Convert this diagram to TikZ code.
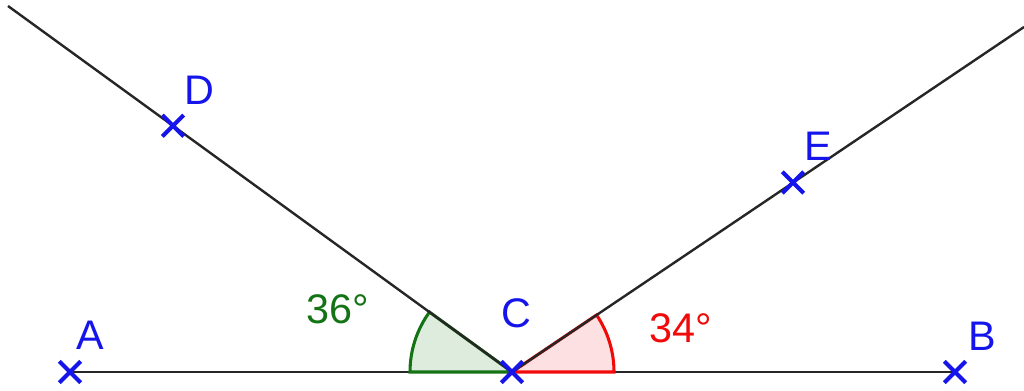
\documentclass[tikz,border=0pt]{standalone}
\usepackage{fontspec}
\setmainfont{Liberation Sans}
\usetikzlibrary{shapes.misc}
\definecolor{gblue}{RGB}{20,20,235}
\definecolor{ggreen}{RGB}{20,115,20}
\definecolor{gred}{RGB}{240,10,10}
\definecolor{gfillgreen}{RGB}{222,236,222}
\definecolor{gfillred}{RGB}{252,224,226}
\tikzset{
  pt/.style={cross out, draw=gblue, line width=3pt, minimum size=13pt, inner sep=0pt},
  lbl/.style={inner sep=0pt, font=\fontsize{31}{31}\selectfont},
  ray/.style={line width=1.8pt, black!85},
  sector/.style={line width=2.3pt}
}
\begin{document}
\begin{tikzpicture}[x=0.75pt, y=-0.75pt]
\useasboundingbox (0,0) rectangle (1024,390);
\coordinate (C) at (512,372);
\coordinate (A) at (70,372);
\coordinate (B) at (955,372);
\coordinate (D) at (173,125.7);
\coordinate (E) at (793,182.5);
\coordinate (TL) at (8,6);
\coordinate (TR) at (1024,27);
% base line
\draw[ray] (A) -- (B);
% angle sectors
\filldraw[sector, draw=ggreen, fill=gfillgreen] (C) -- ++(180:102) arc[start angle=180, end angle=216, radius=102] -- cycle;
\filldraw[sector, draw=gred, fill=gfillred] (C) -- ++(0:102) arc[start angle=0, end angle=-34, radius=102] -- cycle;
% rays
\draw[ray] (C) -- (TL);
\draw[ray] (C) -- (TR);
% points
\node[pt] (pA) at (A) {};
\node[pt] (pB) at (B) {};
\node[pt] (pC) at (C) {};
\node[pt] (pD) at (D) {};
\node[pt] (pE) at (E) {};
% labels
\node[lbl, text=gblue] (lA) at (90,335) {A};
\node[lbl, text=gblue] (lB) at (982,336) {B};
\node[lbl, text=gblue] (lC) at (516,313) {C};
\node[lbl, text=gblue] (lD) at (199,90) {D};
\node[lbl, text=gblue] (lE) at (818,146) {E};
\node[lbl, text=ggreen] (a36) at (338,309) {36°};
\node[lbl, text=gred] (a34) at (681,328) {34°};
\end{tikzpicture}
\end{document}
